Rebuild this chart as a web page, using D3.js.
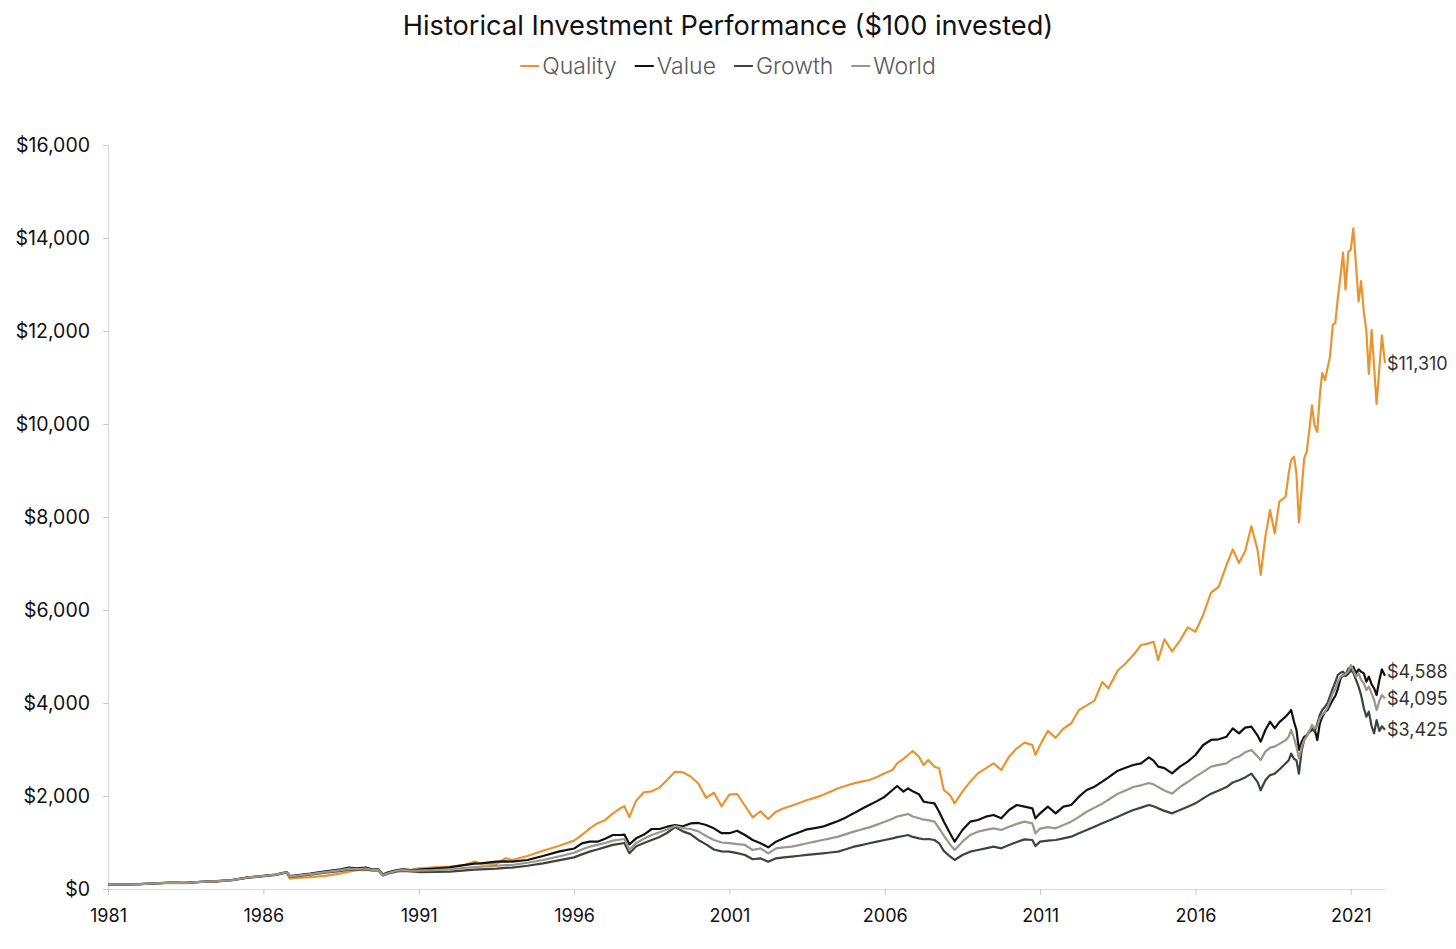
<!DOCTYPE html>
<html>
<head>
<meta charset="utf-8">
<script src="https://cdn.jsdelivr.net/npm/d3@7/dist/d3.min.js"></script>
<style>
body { margin: 0; background: #fff; }
svg text { font-family: Inter, "Noto Sans", sans-serif; }
</style>
</head>
<body>
<svg id="chart" width="1456" height="949"></svg>
<script>
// decimal years of each sample
var dates = [
  1981.0, 1981.5, 1982.0, 1982.5, 1983.0, 1983.5, 1984.0, 1984.5, 1985.0, 1985.5,
  1986.0, 1986.4, 1986.75, 1986.85, 1987.0, 1987.5, 1988.0, 1988.5, 1988.75, 1989.0,
  1989.3, 1989.5, 1989.7, 1989.85, 1990.0, 1990.3, 1990.5, 1990.75, 1991.0, 1991.5,
  1992.0, 1992.5, 1992.8, 1993.0, 1993.5, 1993.8, 1994.0, 1994.5, 1995.0, 1995.5,
  1996.0, 1996.25, 1996.5, 1996.75, 1997.0, 1997.25, 1997.5, 1997.62, 1997.78, 1998.0,
  1998.25, 1998.5, 1998.75, 1999.0, 1999.25, 1999.5, 1999.75, 2000.0, 2000.25, 2000.5,
  2000.75, 2001.0,
  2001.25, 2001.5, 2001.75, 2002.0, 2002.25, 2002.5, 2002.75, 2003.0, 2003.25, 2003.5,
  2003.75, 2004.0, 2004.25, 2004.5, 2004.75, 2005.0, 2005.25, 2005.5, 2005.75, 2006.0,
  2006.25, 2006.4, 2006.6, 2006.75, 2006.9, 2007.1, 2007.25, 2007.4, 2007.6, 2007.75,
  2007.9, 2008.1, 2008.25, 2008.5, 2008.75, 2009.0, 2009.25, 2009.5, 2009.75, 2010.0,
  2010.25, 2010.5, 2010.75, 2010.85, 2011.0,
  2011.25, 2011.5, 2011.75, 2012.0, 2012.25, 2012.5, 2012.75, 2013.0, 2013.2, 2013.5,
  2013.75, 2014.0, 2014.25, 2014.5, 2014.65, 2014.8, 2015.0, 2015.25, 2015.5, 2015.75,
  2016.0, 2016.25, 2016.5, 2016.75, 2017.0, 2017.2, 2017.4, 2017.6, 2017.8, 2018.0,
  2018.1, 2018.25, 2018.4, 2018.55, 2018.7, 2018.9,
  2019.0, 2019.08, 2019.17, 2019.25, 2019.33, 2019.42, 2019.5, 2019.58, 2019.67, 2019.75,
  2019.83, 2019.92, 2020.0, 2020.08, 2020.17, 2020.25, 2020.33, 2020.42, 2020.5, 2020.58,
  2020.67, 2020.75, 2020.83, 2020.92, 2021.0, 2021.08, 2021.17, 2021.25, 2021.33, 2021.42,
  2021.5, 2021.58, 2021.67, 2021.75, 2021.83, 2021.92, 2022.0, 2022.1
];

var quality = [
  100, 100, 102, 118, 133, 128, 150, 165, 188, 245,
  275, 305, 355, 225, 235, 255, 282, 337, 373, 405,
  410, 400, 400, 300, 355, 400, 415, 405, 445, 465,
  484, 520, 588, 552, 538, 660, 624, 710, 824, 925,
  1040, 1161, 1300, 1412, 1480, 1627, 1740, 1780, 1545, 1900,
  2080, 2100, 2180, 2350, 2520, 2510, 2420, 2270, 1960, 2070,
  1780, 2030,
  2043, 1790, 1540, 1670, 1505, 1663, 1735, 1792, 1850, 1914,
  1960, 2021, 2090, 2165, 2220, 2272, 2310, 2344, 2410, 2487,
  2559, 2700, 2800, 2882, 2968, 2846, 2666, 2774, 2630, 2595,
  2129, 2021, 1842, 2093, 2308, 2487, 2595, 2702, 2559, 2846,
  3025, 3147, 3097, 2882, 3097,
  3400, 3250, 3450, 3560, 3850, 3950, 4050, 4450, 4315, 4700,
  4850, 5030, 5247, 5283, 5319, 4925, 5370, 5110, 5340, 5627,
  5534, 5900, 6373, 6500, 6968, 7305, 7010, 7270, 7800, 7291,
  6753, 7577, 8150, 7648, 8330, 8437,
  8939, 9226, 9297, 8939, 7878, 8616, 9262, 9405, 9900, 10400,
  9979, 9830, 10600, 11099, 10946, 11200, 11445, 12138, 12172, 12700,
  13200, 13686, 12888, 13703, 13748, 14208, 13402, 12634, 13073, 12400,
  12000, 11075, 12019, 11213, 10430, 11213, 11905, 11310
];

var value = [
  100, 100, 104, 120, 137, 134, 156, 170, 194, 251,
  282, 312, 365, 280, 290, 330, 378, 423, 459, 445,
  459, 423, 423, 310, 352, 409, 423, 409, 415, 440,
  466, 520, 545, 552, 588, 595, 588, 624, 710, 803,
  870, 982, 1018, 1018, 1080, 1161, 1161, 1170, 960, 1090,
  1170, 1290, 1290, 1340, 1376, 1350, 1410, 1420, 1376, 1305,
  1200, 1200,
  1254, 1161, 1054, 983, 896, 1018, 1089, 1161, 1220, 1283,
  1310, 1340, 1400, 1462, 1540, 1627, 1720, 1806, 1890, 1985,
  2129, 2215, 2093, 2165, 2100, 2040, 1878, 1860, 1842, 1663,
  1450, 1200, 1018, 1269, 1448, 1484, 1555, 1591, 1520, 1699,
  1806, 1770, 1735, 1520, 1627,
  1771, 1628, 1771, 1806, 1985, 2129, 2201, 2308, 2400, 2545,
  2609, 2667, 2703, 2832, 2760, 2631, 2600, 2488, 2631, 2738,
  2882, 3097, 3205, 3219, 3276, 3455, 3348, 3470, 3491, 3300,
  3169, 3420, 3598, 3455, 3590, 3706,
  3777, 3849, 3600, 3420, 2990, 3169, 3276, 3300, 3380, 3420,
  3455, 3205, 3550, 3700, 3813, 3850, 3950, 4064, 4150, 4300,
  4530, 4602, 4580, 4637, 4700, 4781, 4637, 4723, 4673, 4637,
  4458, 4566, 4400, 4315, 4171, 4500, 4723, 4588
];

var growth = [
  100, 100, 103, 118, 134, 130, 152, 166, 190, 245,
  276, 305, 358, 265, 272, 310, 350, 390, 420, 415,
  425, 400, 398, 290, 330, 380, 390, 380, 365, 370,
  373, 400, 415, 423, 440, 455, 459, 500, 552, 615,
  680, 745, 803, 850, 900, 950, 975, 990, 770, 920,
  990, 1054, 1120, 1210, 1330, 1240, 1180, 1054, 960, 850,
  810, 805,
  770, 732, 640, 660, 588, 660, 680, 696, 715, 732,
  750, 767, 785, 803, 855, 910, 945, 983, 1020, 1054,
  1090, 1115, 1140, 1161, 1120, 1089, 1070, 1075, 1054, 983,
  820, 700, 624, 732, 803, 838, 875, 910, 875, 947,
  1010, 1068, 1054, 925, 1018,
  1040, 1054, 1090, 1126, 1200, 1269, 1340, 1412, 1470, 1555,
  1630, 1699, 1750, 1806, 1780, 1734, 1680, 1627, 1699, 1770,
  1842, 1950, 2050, 2120, 2193, 2290, 2340, 2400, 2480, 2300,
  2122, 2337, 2450, 2480, 2570, 2700,
  2767, 2911, 2800, 2767, 2480, 2990, 3205, 3300, 3400, 3455,
  3384, 3550, 3742, 3850, 3921, 4000, 4150, 4315, 4450, 4602,
  4650, 4673, 4600, 4745, 4700, 4650, 4494, 4351, 4171, 3885,
  3706, 3813, 3500, 3348, 3634, 3400, 3500, 3425
];

var world = [
  100, 100, 103, 119, 135, 132, 154, 168, 192, 248,
  279, 308, 360, 270, 280, 320, 364, 405, 438, 430,
  440, 410, 410, 300, 340, 395, 405, 394, 395, 405,
  423, 455, 470, 480, 500, 515, 516, 565, 624, 700,
  780, 850, 910, 950, 990, 1040, 1065, 1075, 850, 990,
  1080, 1161, 1220, 1280, 1355, 1310, 1290, 1240, 1140, 1054,
  1000, 985,
  965, 947, 838, 875, 767, 875, 895, 910, 945, 983,
  1020, 1054, 1090, 1126, 1180, 1233, 1280, 1326, 1385, 1448,
  1510, 1560, 1590, 1613, 1560, 1520, 1490, 1480, 1448, 1305,
  1150, 960, 838, 1018, 1161, 1233, 1270, 1305, 1269, 1340,
  1400, 1448, 1412, 1197, 1300,
  1330, 1305, 1376, 1448, 1550, 1663, 1750, 1835, 1920, 2050,
  2120, 2193, 2230, 2279, 2250, 2193, 2120, 2050, 2193, 2300,
  2416, 2520, 2631, 2670, 2703, 2800, 2850, 2940, 2990, 2850,
  2775, 2954, 3040, 3061, 3120, 3200,
  3276, 3420, 3250, 3061, 2810, 3061, 3205, 3280, 3400, 3527,
  3455, 3500, 3670, 3750, 3813, 3900, 4050, 4207, 4300, 4450,
  4566, 4600, 4620, 4673, 4817, 4700, 4566, 4637, 4500, 4422,
  4279, 4351, 4200, 4064, 3849, 4050, 4171, 4095
];

var seriesNames = ['Quality', 'Value', 'Growth', 'World'];
var seriesValues = [quality, value, growth, world];
var seriesColors = ['#e9952f', '#111111', '#3a453d', '#9c958a'];
var endLabels = ['$11,310', '$4,588', '$3,425', '$4,095'];
var yTicks = [0, 2000, 4000, 6000, 8000, 10000, 12000, 14000, 16000];
var xTicks = [1981, 1986, 1991, 1996, 2001, 2006, 2011, 2016, 2021];

(function(){
  var svg = d3.select('#chart');
  var plotLeft = 108, plotRight = 1385, plotTop = 145, plotBottom = 889;

  var x = d3.scaleLinear().domain([d3.min(dates), d3.max(dates)]).range([plotLeft, plotRight]);
  var y = d3.scaleLinear().domain([0, 16000]).range([plotBottom, plotTop]);

  // title
  svg.append('text')
    .attr('x', 728).attr('y', 25)
    .attr('text-anchor', 'middle').attr('dominant-baseline', 'central')
    .style('font-size', '27.2px').style('fill', '#111')
    .text('Historical Investment Performance ($100 invested)');

  // legend, laid out from measured text widths
  var legend = svg.append('g');
  var lx = 0;
  seriesNames.forEach(function(name, i){
    var g = legend.append('g').attr('transform', 'translate(' + lx + ',0)');
    g.append('line').attr('x1', 0).attr('x2', 19).attr('y1', 0).attr('y2', 0)
      .attr('stroke', seriesColors[i]).attr('stroke-width', 2);
    var t = g.append('text').attr('x', 22).attr('y', 0)
      .attr('dominant-baseline', 'central')
      .style('font-size', '23px').style('fill', '#5a5a5a').style('font-weight', 300)
      .text(name);
    lx += 22 + t.node().getComputedTextLength() + 18;
  });
  var legendW = lx - 18;
  legend.attr('transform', 'translate(' + (728 - legendW / 2) + ',66)');

  // axes
  var yAxis = svg.append('g')
    .attr('transform', 'translate(' + plotLeft + ',0)')
    .call(d3.axisLeft(y).tickValues(yTicks).tickFormat(d3.format('$,')).tickSize(5).tickPadding(13).tickSizeOuter(0));
  var xAxis = svg.append('g')
    .attr('transform', 'translate(0,' + plotBottom + ')')
    .call(d3.axisBottom(x).tickValues(xTicks).tickFormat(d3.format('d')).tickSize(6).tickPadding(14).tickSizeOuter(0));

  [yAxis, xAxis].forEach(function(a){
    a.select('.domain').attr('stroke', '#d9d9d9').attr('stroke-width', 1.2);
    a.selectAll('.tick line').attr('stroke', '#c8c8c8');
    a.selectAll('.tick text').style('font-size', '18px').style('fill', '#111').style('font-family', 'Inter, sans-serif');
  });
  yAxis.selectAll('.tick text').style('font-size', '19.5px');

  // lines
  var line = d3.line()
    .x(function(d){ return x(d[0]); })
    .y(function(d){ return y(d[1]); });

  seriesValues.forEach(function(vals, i){
    var pts = dates.map(function(dt, k){ return [dt, vals[k]]; });
    svg.append('path')
      .datum(pts)
      .attr('fill', 'none')
      .attr('stroke', seriesColors[i])
      .attr('stroke-width', 2.2)
      .attr('stroke-linejoin', 'round')
      .attr('d', line);
  });

  // end labels, pushed apart when they would overlap
  var lastX = x(dates[dates.length - 1]);
  var labs = seriesValues.map(function(vals, i){
    return { text: endLabels[i], y: y(vals[vals.length - 1]) };
  }).sort(function(a, b){ return b.y - a.y; });
  for (var k = 1; k < labs.length; k++) {
    if (labs[k - 1].y - labs[k].y < 27) labs[k].y = labs[k - 1].y - 27;
  }
  labs.forEach(function(l){
    svg.append('text')
      .attr('x', lastX + 2).attr('y', l.y)
      .attr('dominant-baseline', 'central')
      .style('font-size', '18px').style('fill', '#333')
      .text(l.text);
  });
})();
</script>
</body>
</html>
